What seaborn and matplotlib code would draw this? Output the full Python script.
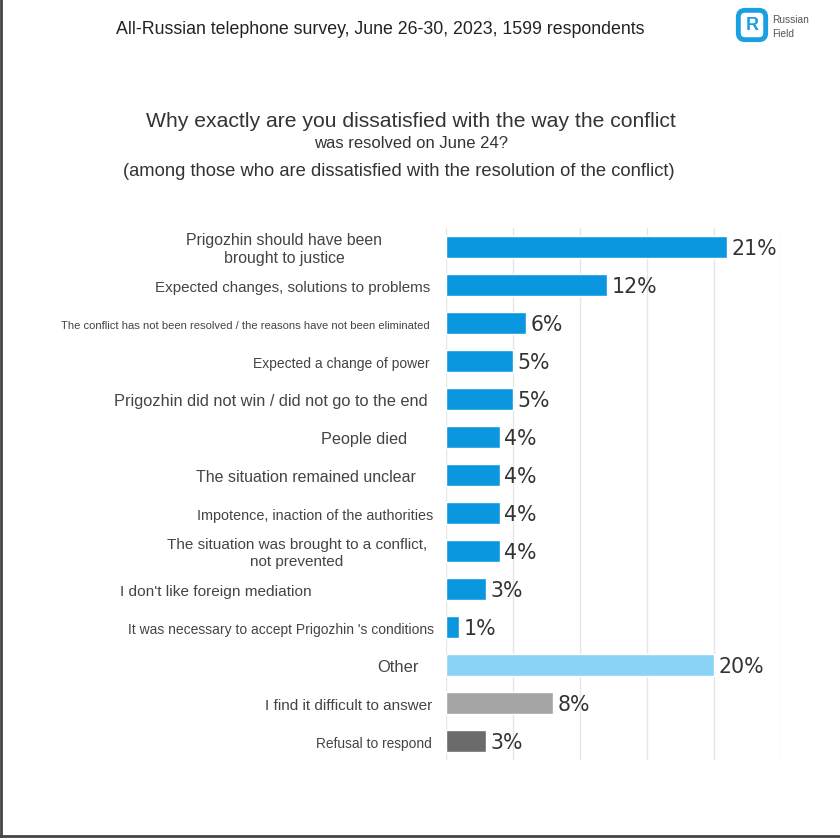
import matplotlib
matplotlib.use("Agg")
import matplotlib.pyplot as plt
import seaborn as sns
import pandas as pd
from matplotlib.patches import FancyBboxPatch
from matplotlib.lines import Line2D
from matplotlib.transforms import blended_transform_factory

categories = [
    "Prigozhin should have been\nbrought to justice",
    "Expected changes, solutions to problems",
    "The conflict has not been resolved / the reasons have not been eliminated",
    "Expected a change of power",
    "Prigozhin did not win / did not go to the end",
    "People died",
    "The situation remained unclear",
    "Impotence, inaction of the authorities",
    "The situation was brought to a conflict,\nnot prevented",
    "I don't like foreign mediation",
    "It was necessary to accept Prigozhin 's conditions",
    "Other",
    "I find it difficult to answer",
    "Refusal to respond",
]
values = [21, 12, 6, 5, 5, 4, 4, 4, 4, 3, 1, 20, 8, 3]
value_labels = ["21%", "12%", "6%", "5%", "5%", "4%", "4%", "4%", "4%", "3%", "1%", "20%", "8%", "3%"]
bar_colors = ["#0A97DF"] * 11 + ["#8AD3F7", "#A5A5A5", "#6B6B6B"]

header = "All-Russian telephone survey, June 26-30, 2023, 1599 respondents"
title1 = "Why exactly are you dissatisfied with the way the conflict"
title2 = "was resolved on June 24?"
title3 = "(among those who are dissatisfied with the resolution of the conflict)"

df = pd.DataFrame({"cat": categories, "val": values})

sns.set_theme(style="white")
plt.rcParams["font.family"] = ["Liberation Sans", "DejaVu Sans"]

W, H = 840, 838
fig = plt.figure(figsize=(8.4, 8.38), dpi=100)
fig.patch.set_facecolor("white")

ax = fig.add_axes([446 / W, 1 - 760 / H, 335 / W, 532 / H])
sns.barplot(data=df, x="val", y="cat", hue="cat", palette=bar_colors,
            legend=False, width=0.58, ax=ax, saturation=1, orient="h")
ax.set_xlim(0, 25)
ax.set_ylim(13.5, -0.5)
ax.set_xticks([0, 5, 10, 15, 20, 25])
ax.set_xticklabels([])
ax.set_yticks([])
ax.set_xlabel("")
ax.set_ylabel("")
ax.grid(axis="x", color="#E6E6E6", linewidth=1)
ax.set_axisbelow(True)
for s in ax.spines.values():
    s.set_visible(False)

for i, (v, lab) in enumerate(zip(values, value_labels)):
    ax.text(v + 0.33, i + 0.06, lab, va="center", ha="left", fontsize=14.8,
            color="#333333", family="DejaVu Sans")

# category label styling: (x anchor px, ha, fontsize)
label_style = [
    (284, "center", 11.4),
    (430, "right", 10.9),
    (430, "right", 8.1),
    (430, "right", 10.0),
    (428, "right", 11.8),
    (407, "right", 11.7),
    (416, "right", 11.5),
    (433, "right", 10.4),
    (297, "center", 11.0),
    (312, "right", 11.1),
    (434, "right", 10.0),
    (419, "right", 11.9),
    (432, "right", 11.0),
    (432, "right", 9.9),
]
tr = blended_transform_factory(fig.transFigure, ax.transData)
for i, (cat, (xp, ha, fs)) in enumerate(zip(categories, label_style)):
    ax.text(xp / W, i + 0.07, cat, transform=tr,
            ha=ha, va="center", fontsize=fs, color="#444444", multialignment="center",
            linespacing=1.3)

fig.text(380 / W, 1 - 29 / H, header, ha="center", va="center", fontsize=12.8, color="#222222")
fig.text(411 / W, 1 - 121 / H, title1, ha="center", va="center", fontsize=15.2, color="#333333")
fig.text(411 / W, 1 - 144 / H, title2, ha="center", va="center", fontsize=12.0, color="#333333")
fig.text(399 / W, 1 - 171 / H, title3, ha="center", va="center", fontsize=13.2, color="#333333")

# logo
logo = FancyBboxPatch((740 / W, 1 - 38 / H), 24 / W, 26 / H,
                      boxstyle="round,pad=0.002,rounding_size=0.008",
                      transform=fig.transFigure, facecolor="white",
                      edgecolor="#1A9FE0", linewidth=3.5)
fig.patches.append(logo)
fig.text(752 / W, 1 - 25 / H, "R", ha="center", va="center", fontsize=13,
         color="#1A9FE0", fontweight="bold")
fig.text(772 / W, 1 - 20 / H, "Russian", ha="left", va="center", fontsize=7.3, color="#555555")
fig.text(772 / W, 1 - 34 / H, "Field", ha="left", va="center", fontsize=7.3, color="#555555")

# frame lines
fig.lines.append(Line2D([1 / W, 1 / W], [0, 1], transform=fig.transFigure, color="#444444", linewidth=2))
fig.lines.append(Line2D([0, 1], [2 / H, 2 / H], transform=fig.transFigure, color="#444444", linewidth=2))

fig.savefig("out.png", dpi=100, facecolor="white")
